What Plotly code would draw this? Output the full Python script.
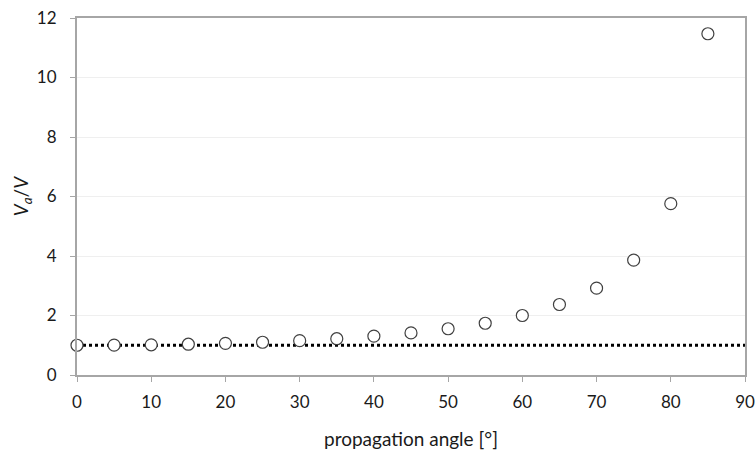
import plotly.graph_objects as go

# propagation angle (degrees) and apparent-velocity ratio Va/V
angles = [0, 5, 10, 15, 20, 25, 30, 35, 40, 45, 50, 55, 60, 65, 70, 75, 80, 85]
ratio = [1.00, 1.004, 1.015, 1.035, 1.064, 1.10, 1.155, 1.22, 1.305, 1.415,
         1.555, 1.74, 2.00, 2.37, 2.92, 3.86, 5.76, 11.47]

# reference level Va/V = 1
ref_x = [0, 90]
ref_y = [1, 1]

x_ticks = [0, 10, 20, 30, 40, 50, 60, 70, 80, 90]
y_ticks = [0, 2, 4, 6, 8, 10, 12]

font_family = "Lato, Carlito, Calibri, sans-serif"
axis_grey = "#a6a6a6"
text_col = "#1a1a1a"

fig = go.Figure()
fig.add_trace(go.Scatter(
    x=ref_x, y=ref_y, mode="lines",
    line=dict(color="black", width=3, dash="dot"),
    showlegend=False, hoverinfo="skip", cliponaxis=False,
))
fig.add_trace(go.Scatter(
    x=angles, y=ratio, mode="markers",
    marker=dict(symbol="circle", size=12, color="white",
                line=dict(color="#404040", width=1.2)),
    showlegend=False, cliponaxis=False,
))

fig.update_layout(
    width=756, height=450,
    margin=dict(l=77, r=11, t=18, b=75, autoexpand=False),
    paper_bgcolor="white", plot_bgcolor="white",
    font=dict(family=font_family, size=17, color=text_col),
    xaxis=dict(
        range=[0, 90], tickvals=x_ticks, showgrid=False, zeroline=False,
        showline=True, linecolor=axis_grey, linewidth=2, mirror=True,
        ticks="outside", ticklen=5, tickcolor=axis_grey, tickwidth=1,
        ticklabelstandoff=6, automargin=False,
        tickfont=dict(size=17, color=text_col),
        title=dict(text="propagation angle [°]", standoff=22,
                   font=dict(size=19, color=text_col)),
    ),
    yaxis=dict(
        range=[0, 12], tickvals=y_ticks, showgrid=True, gridcolor="#efefef",
        gridwidth=1, zeroline=False,
        showline=True, linecolor=axis_grey, linewidth=2, mirror=True,
        ticks="outside", ticklen=5, tickcolor=axis_grey, tickwidth=1,
        ticklabelstandoff=10, automargin=False,
        tickfont=dict(size=17, color=text_col),
        title=dict(text="<i>V<sub>a</sub></i>/<i>V</i>", standoff=3,
                   font=dict(size=19, color=text_col)),
    ),
)

fig.write_html("out.html")
